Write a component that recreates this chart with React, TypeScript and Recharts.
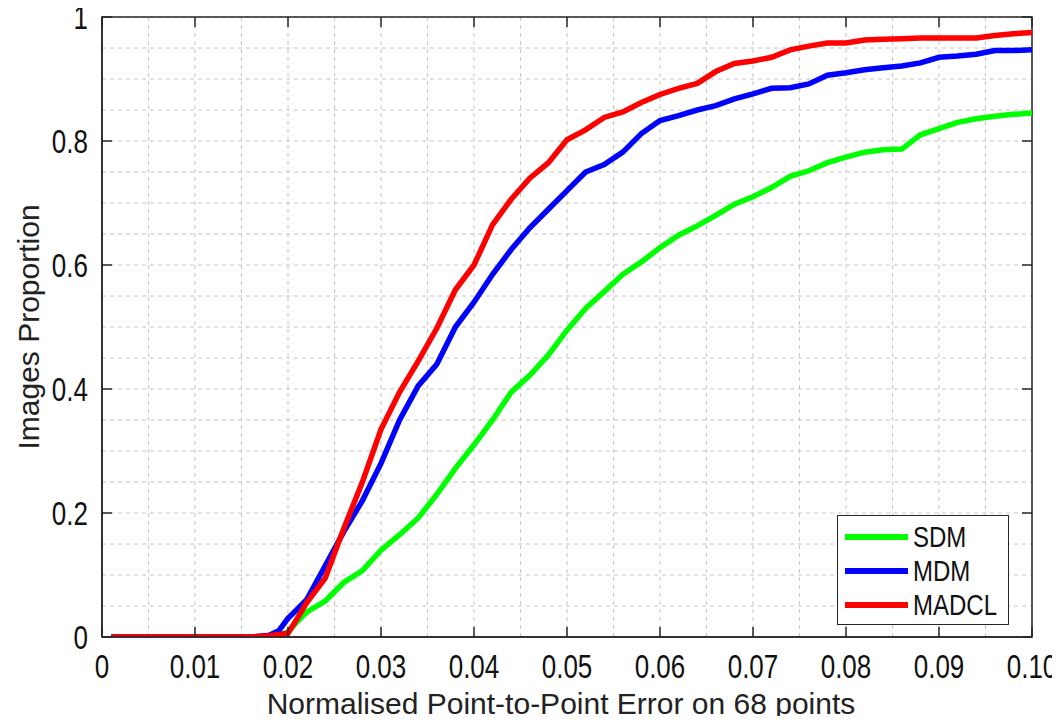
import React from 'react'
import { LineChart, Line, XAxis, YAxis, CartesianGrid, Legend, ReferenceArea } from 'recharts'

// normalised error (x) sample positions shared by the three CED curves
const errorSteps = [
  0.001, 0.01, 0.016, 0.018, 0.019, 0.02, 0.021, 0.022, 0.024, 0.026, 0.028, 0.03,
  0.032, 0.034, 0.036, 0.038, 0.04, 0.042, 0.044, 0.046, 0.048, 0.05, 0.052, 0.054,
  0.056, 0.058, 0.06, 0.062, 0.064, 0.066, 0.068, 0.07, 0.072, 0.074, 0.076, 0.078,
  0.08, 0.082, 0.084, 0.086, 0.088, 0.09, 0.092, 0.094, 0.096, 0.098, 0.1,
]

const sdmValues = [
  0, 0, 0, 0.001, 0.003, 0.008, 0.025, 0.04, 0.058, 0.088, 0.107, 0.14,
  0.165, 0.192, 0.23, 0.272, 0.31, 0.35, 0.395, 0.422, 0.455, 0.495, 0.53, 0.557,
  0.585, 0.605, 0.628, 0.648, 0.663, 0.68, 0.698, 0.71, 0.725, 0.743, 0.752, 0.765,
  0.774, 0.782, 0.786, 0.787, 0.81, 0.82, 0.83, 0.836, 0.84, 0.843, 0.845,
]

const mdmValues = [
  0, 0, 0, 0.003, 0.01, 0.03, 0.045, 0.06, 0.115, 0.17, 0.22, 0.28,
  0.35, 0.405, 0.44, 0.5, 0.54, 0.585, 0.625, 0.66, 0.69, 0.72, 0.75, 0.762,
  0.782, 0.812, 0.833, 0.841, 0.85, 0.857, 0.868, 0.876, 0.885, 0.886, 0.892, 0.906,
  0.91, 0.915, 0.918, 0.921, 0.926, 0.935, 0.937, 0.94, 0.946, 0.946, 0.947,
]

const madclValues = [
  0, 0, 0, 0.002, 0.004, 0.006, 0.03, 0.055, 0.095, 0.175, 0.25, 0.335,
  0.395, 0.445, 0.498, 0.56, 0.6, 0.665, 0.706, 0.74, 0.765, 0.802, 0.818, 0.838,
  0.847, 0.862, 0.875, 0.885, 0.893, 0.912, 0.925, 0.929, 0.935, 0.947, 0.953, 0.958,
  0.958, 0.963, 0.964, 0.965, 0.966, 0.966, 0.966, 0.966, 0.97, 0.973, 0.975,
]

const seriesNames = ['SDM', 'MDM', 'MADCL']

const xTicks = [0, 0.01, 0.02, 0.03, 0.04, 0.05, 0.06, 0.07, 0.08, 0.09, 0.1]
const xTickLabels = ['0', '0.01', '0.02', '0.03', '0.04', '0.05', '0.06', '0.07', '0.08', '0.09', '0.10']
const yTicks = [0, 0.2, 0.4, 0.6, 0.8, 1]
const yTickLabels = ['0', '0.2', '0.4', '0.6', '0.8', '1']

// minor grid: every 0.0025 on x, every 0.05 on y
const xGrid = Array.from({ length: 41 }, (_, i) => +(i * 0.0025).toFixed(4))
const yGrid = Array.from({ length: 21 }, (_, i) => +(i * 0.05).toFixed(2))

const data = errorSteps.map((x, i) => ({
  x,
  SDM: sdmValues[i],
  MDM: mdmValues[i],
  MADCL: madclValues[i],
}))

const FONT = '"Liberation Sans", Arial, sans-serif'
const AXIS = '#262626'
const STRETCH = 1.3 // the original matlab export has vertically stretched glyphs

const W = 1060
const H = 724
const MARGIN = { top: 17, right: 28, bottom: 0, left: 0 }
const X_AXIS_H = 87
const Y_AXIS_W = 102
const PLOT_W = W - MARGIN.left - MARGIN.right - Y_AXIS_W
const PLOT_H = H - MARGIN.top - MARGIN.bottom - X_AXIS_H
const TICK_LEN = 10
const X_TICK_GAP = 17
const Y_TICK_GAP = 14

// tick labels plus inward matlab-style tick marks on both opposite sides of the box
const XTick = ({ x, y, payload }: any) => {
  const label = xTickLabels[xTicks.indexOf(payload.value)] ?? String(payload.value)
  const base = y - X_TICK_GAP
  return (
    <g>
      <line x1={x} x2={x} y1={base} y2={base - TICK_LEN} stroke={AXIS} strokeWidth={1.5} />
      <line x1={x} x2={x} y1={base - PLOT_H} y2={base - PLOT_H + TICK_LEN} stroke={AXIS} strokeWidth={1.5} />
      <text
        x={x}
        y={y}
        dy='0.72em'
        textAnchor='middle'
        fontSize={26}
        fill='#111'
        fontFamily={FONT}
        transform={`translate(${x} ${y}) scale(1 ${STRETCH}) translate(${-x} ${-y})`}
      >
        {label}
      </text>
    </g>
  )
}

const YTick = ({ x, y, payload }: any) => {
  const label = yTickLabels[yTicks.indexOf(payload.value)] ?? String(payload.value)
  const base = x + Y_TICK_GAP
  return (
    <g>
      <line x1={base} x2={base + TICK_LEN} y1={y} y2={y} stroke={AXIS} strokeWidth={1.5} />
      <line x1={base + PLOT_W} x2={base + PLOT_W - TICK_LEN} y1={y} y2={y} stroke={AXIS} strokeWidth={1.5} />
      <text
        x={x}
        y={y}
        dy='0.36em'
        textAnchor='end'
        fontSize={26}
        fill='#111'
        fontFamily={FONT}
        transform={`translate(${x} ${y}) scale(1 ${STRETCH}) translate(${-x} ${-y})`}
      >
        {label}
      </text>
    </g>
  )
}

const LegendBox = (props: any) => {
  const payload = [...(props.payload || [])].sort(
    (a: any, b: any) => seriesNames.indexOf(a.value) - seriesNames.indexOf(b.value)
  )
  return (
    <div
      style={{
        width: 172,
        height: 110,
        border: `1.5px solid ${AXIS}`,
        background: '#fff',
        boxSizing: 'border-box',
        paddingTop: 4,
        fontFamily: FONT,
      }}
    >
      {payload.map((p: any) => (
        <div key={p.value} style={{ display: 'flex', alignItems: 'center', height: 34 }}>
          <div style={{ width: 63, height: 6, background: p.color, marginLeft: 7, marginRight: 5 }} />
          <span style={{ fontSize: 24, color: '#111', display: 'inline-block', transform: 'scaleY(1.2)' }}>{p.value}</span>
        </div>
      ))}
    </div>
  )
}

export default function App() {
  return (
    <div style={{ margin: '-8px -8px 0 -8px', width: W, height: H - 8 }}>
      <LineChart width={W} height={H} data={data} margin={MARGIN}>
        <XAxis xAxisId='grid' dataKey='x' type='number' domain={[0, 0.1]} ticks={xGrid} hide allowDataOverflow />
        <YAxis yAxisId='grid' type='number' domain={[0, 1]} ticks={yGrid} hide allowDataOverflow />
        <CartesianGrid xAxisId='grid' yAxisId='grid' stroke='#c4c4c4' strokeDasharray='4 4' strokeWidth={1} />
        <XAxis
          dataKey='x'
          type='number'
          domain={[0, 0.1]}
          ticks={xTicks}
          allowDataOverflow
          height={X_AXIS_H}
          tickLine={false}
          tickSize={0}
          tickMargin={X_TICK_GAP}
          stroke={AXIS}
          strokeWidth={1.5}
          tick={<XTick />}
          label={{
            value: 'Normalised Point-to-Point Error on 68 points',
            position: 'insideBottom',
            offset: 10,
            dx: -6,
            style: { fontSize: 30, fill: '#222', fontFamily: FONT },
          }}
        />
        <YAxis
          type='number'
          domain={[0, 1]}
          ticks={yTicks}
          allowDataOverflow
          width={Y_AXIS_W}
          tickLine={false}
          tickSize={0}
          tickMargin={Y_TICK_GAP}
          stroke={AXIS}
          strokeWidth={1.5}
          tick={<YTick />}
          label={{
            value: 'Images Proportion',
            angle: -90,
            position: 'insideLeft',
            offset: 28,
            style: { fontSize: 30, fill: '#222', fontFamily: FONT, textAnchor: 'middle' },
          }}
        />
        <Line dataKey='SDM' type='linear' stroke='#00ff00' strokeWidth={5.5} dot={false} isAnimationActive={false} />
        <Line dataKey='MDM' type='linear' stroke='#0000ff' strokeWidth={5.5} dot={false} isAnimationActive={false} />
        <Line dataKey='MADCL' type='linear' stroke='#ff0000' strokeWidth={5.5} dot={false} isAnimationActive={false} />
        <ReferenceArea x1={0} x2={0.1} y1={0} y2={1} fill='none' stroke={AXIS} strokeWidth={1.5} ifOverflow='visible' />
        <Legend
          layout='vertical'
          align='center'
          verticalAlign='middle'
          content={<LegendBox />}
          wrapperStyle={{ left: 837, top: 515, width: 172 }}
        />
      </LineChart>
    </div>
  )
}
